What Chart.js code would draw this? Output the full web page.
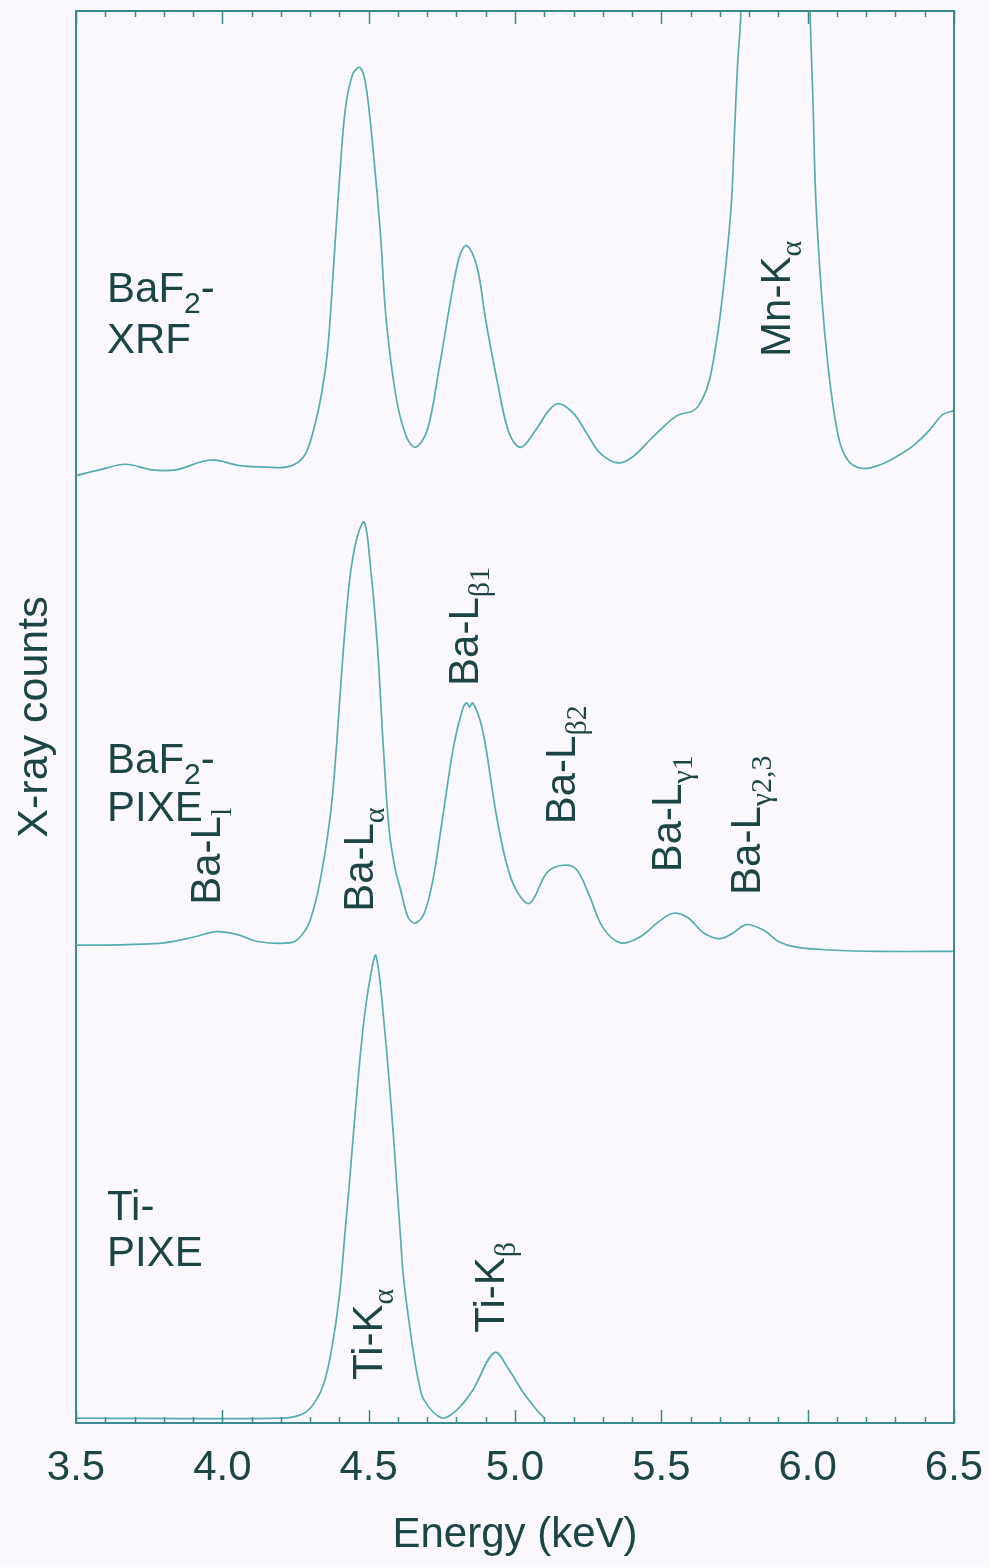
<!DOCTYPE html>
<html lang="en">
<head>
<meta charset="UTF-8">
<title>Espectros de raios X</title>
<script src="https://cdn.jsdelivr.net/npm/chart.js"></script>
<style>
    html, body { margin: 0; padding: 0; background: #faf8fc; }
    canvas { display: block; }
</style>
</head>
<body>
<canvas id="espectro" width="989" height="1567"></canvas>
<script>
    // eixo de energia (keV)
    const xTicks = [3.5, 4.0, 4.5, 5.0, 5.5, 6.0, 6.5];

    // BaF2 - XRF (curva de cima, contagens ja deslocadas)
    const xrfEnergy = [3.50, 3.58, 3.67, 3.76, 3.84, 3.96, 4.06, 4.15, 4.23, 4.28, 4.31, 4.34, 4.36, 4.38, 4.40, 4.42, 4.445, 4.47, 4.49,
        4.515, 4.54, 4.56, 4.595, 4.63, 4.66, 4.70, 4.74, 4.78, 4.81, 4.835, 4.87, 4.90, 4.94, 4.98, 5.02, 5.07, 5.115, 5.15, 5.20,
        5.245, 5.29, 5.35, 5.40, 5.46, 5.52, 5.56, 5.61, 5.64, 5.665, 5.693, 5.72, 5.74, 5.75, 5.76, 5.772, 5.80, 5.85, 5.90, 5.95,
        5.99, 6.008, 6.018, 6.028, 6.049, 6.07, 6.093, 6.115, 6.145, 6.19, 6.24, 6.30, 6.36, 6.42, 6.46, 6.50];
    const xrfCounts = [67.1, 67.5, 67.9, 67.5, 67.5, 68.2, 67.8, 67.7, 67.75, 68.5, 70.2, 73.0, 76.0, 81.9, 88.0, 93.0, 95.5, 96.0, 94.8,
        90.2, 84.3, 78.1, 72.5, 69.8, 69.1, 70.3, 74.6, 79.5, 82.6, 83.4, 81.9, 78.1, 73.7, 70.1, 69.1, 70.3, 71.7, 72.2, 71.5,
        70.1, 68.7, 68.0, 68.4, 69.6, 70.8, 71.4, 71.7, 72.5, 73.9, 77.2, 81.9, 86.6, 91.4, 96.0, 99.9, 118, 135, 142, 135,
        115, 99.9, 93.7, 86.6, 79.5, 74.8, 71.2, 69.1, 68.0, 67.6, 67.8, 68.4, 69.2, 70.4, 71.4, 71.7];

    // BaF2 - PIXE (curva do meio)
    const pixeEnergy = [3.50, 3.60, 3.70, 3.80, 3.90, 3.98, 4.05, 4.12, 4.23, 4.265, 4.30, 4.335, 4.37, 4.39, 4.41, 4.435, 4.46, 4.485, 4.505, 4.53,
        4.55, 4.57, 4.59, 4.61, 4.635, 4.66, 4.69, 4.72, 4.755, 4.79, 4.82, 4.835, 4.845, 4.855, 4.88, 4.90, 4.935, 4.97, 5.005, 5.05, 5.11,
        5.165, 5.21, 5.255, 5.30, 5.36, 5.425, 5.485, 5.54, 5.59, 5.645, 5.70, 5.745, 5.79, 5.85, 5.90, 5.96, 6.075, 6.245, 6.50];
    const pixeCounts = [33.85, 33.85, 33.9, 34.0, 34.4, 34.8, 34.6, 34.1, 34.0, 34.4, 35.6, 38.5, 43.2, 47.9, 53.8, 59.7, 62.7, 63.8, 60.9, 55.0,
        47.9, 42.0, 39.3, 37.7, 35.8, 35.4, 36.1, 38.5, 43.2, 47.9, 50.5, 51.0, 50.7, 51.0, 49.8, 47.9, 43.2, 39.7, 37.7, 36.8, 39.0,
        39.5, 39.2, 37.3, 35.1, 34.0, 34.4, 35.4, 36.1, 35.8, 34.7, 34.3, 34.7, 35.3, 34.9, 34.1, 33.7, 33.5, 33.4, 33.4];

    // Ti - PIXE (curva de baixo)
    const tiEnergy = [3.50, 4.21, 4.28, 4.32, 4.35, 4.375, 4.40, 4.42, 4.435, 4.45, 4.48, 4.505, 4.525, 4.555, 4.583, 4.595, 4.607, 4.62, 4.65, 4.67,
        4.69, 4.75, 4.80, 4.855, 4.93, 4.98, 5.03, 5.075, 5.10];
    const tiCounts = [0.35, 0.35, 0.7, 1.6, 3.0, 5.4, 9.0, 13.7, 17.2, 21.0, 27.8, 31.5, 33.1, 27.8, 20.8, 17.2, 13.7, 10.1, 5.4, 3.0,
        1.6, 0.35, 0.9, 2.3, 5.0, 3.75, 2.1, 0.9, 0.35];

    // rotulos das linhas (verticais)
    const peakNames = ['Mn-K', 'Ba-L', 'Ba-L', 'Ba-L', 'Ba-L', 'Ba-L', 'Ba-L', 'Ti-K', 'Ti-K'];
    const peakSubs = ['α', 'l', 'α', 'β1', 'β2', 'γ1', 'γ2,3', 'α', 'β'];

    // rotulos das amostras (horizontais)
    const sampleLines = [
        [{ t: 'BaF' }, { t: '2', sub: true }, { t: '-' }], [{ t: 'XRF' }],
        [{ t: 'BaF' }, { t: '2', sub: true }, { t: '-' }], [{ t: 'PIXE' }],
        [{ t: 'Ti-' }], [{ t: 'PIXE' }]
    ];

    const corCurva = '#55adb0';
    const corMoldura = '#3b8a8c';
    const corTexto = '#1c4646';
    const fonte = "'Liberation Sans', Arial, sans-serif";

    // posicoes dos rotulos (em unidades do grafico)
    const posPicos = [[5.94, 75.5], [3.992, 36.7], [4.515, 36.2], [4.874, 52.2], [5.205, 42.4], [5.567, 39.0], [5.837, 37.4], [4.546, 3.05], [4.962, 6.4]];
    const posAmostras = [[3.606, 79.4], [3.606, 75.8], [3.606, 46.0], [3.606, 42.6], [3.606, 14.4], [3.606, 11.1]];

    function pontos(xs, ys) {
        return xs.map((x, i) => ({ x: x, y: ys[i] }));
    }

    function escreverRico(ctx, partes, x, y, angulo, fonteSub) {
        ctx.save();
        ctx.translate(x, y);
        ctx.rotate(angulo);
        ctx.textBaseline = 'alphabetic';
        ctx.textAlign = 'left';
        ctx.fillStyle = corTexto;
        let cursor = 0;
        partes.forEach(p => {
            ctx.font = p.sub ? fonteSub : '42px ' + fonte;
            ctx.fillText(p.t, cursor, p.sub ? 11 : 0);
            cursor += ctx.measureText(p.t).width;
        });
        ctx.restore();
    }

    const fundo = {
        id: 'fundo',
        beforeDraw(chart) {
            const c = chart.ctx;
            c.save();
            c.fillStyle = '#faf8fc';
            c.fillRect(0, 0, chart.width, chart.height);
            c.restore();
        }
    };

    // moldura de cima/direita e tracinhos para dentro
    const moldura = {
        id: 'moldura',
        afterDatasetsDraw(chart) {
            const c = chart.ctx;
            const a = chart.chartArea;
            const xs = chart.scales.x;
            c.save();
            c.strokeStyle = corMoldura;
            c.lineWidth = 2;
            c.beginPath();
            c.moveTo(a.left, a.top);
            c.lineTo(a.right, a.top);
            c.lineTo(a.right, a.bottom);
            c.stroke();
            c.lineWidth = 1.5;
            for (let i = 0; i <= 30; i++) {
                const v = 3.5 + i * 0.1;
                const px = Math.round(xs.getPixelForValue(v)) + 0.5;
                const len = i % 5 === 0 ? 13 : 6;
                c.beginPath();
                c.moveTo(px, a.bottom);
                c.lineTo(px, a.bottom - len);
                c.moveTo(px, a.top);
                c.lineTo(px, a.top + len);
                c.stroke();
            }
            c.restore();
        }
    };

    const rotulos = {
        id: 'rotulos',
        afterDatasetsDraw(chart) {
            const c = chart.ctx;
            const xs = chart.scales.x;
            const ys = chart.scales.y;
            peakNames.forEach((nome, i) => {
                const px = xs.getPixelForValue(posPicos[i][0]);
                const py = ys.getPixelForValue(posPicos[i][1]);
                escreverRico(c, [{ t: nome }, { t: peakSubs[i], sub: true }], px, py, -Math.PI / 2, "30px 'Liberation Serif', serif");
            });
            sampleLines.forEach((linha, i) => {
                const px = xs.getPixelForValue(posAmostras[i][0]);
                const py = ys.getPixelForValue(posAmostras[i][1]);
                escreverRico(c, linha, px, py, 0, '30px ' + fonte);
            });
        }
    };

    const ctx = document.getElementById('espectro').getContext('2d');

    const serie = (label, data) => ({
        label: label,
        data: data,
        borderColor: corCurva,
        borderWidth: 1.7,
        pointRadius: 0,
        fill: false,
        tension: 0.35
    });

    const grafico = new Chart(ctx, {
        type: 'line',
        data: {
            datasets: [
                serie('BaF2-XRF', pontos(xrfEnergy, xrfCounts)),
                serie('BaF2-PIXE', pontos(pixeEnergy, pixeCounts)),
                serie('Ti-PIXE', pontos(tiEnergy, tiCounts))
            ]
        },
        options: {
            responsive: false,
            animation: false,
            devicePixelRatio: 1,
            layout: { padding: { top: 11, right: 35, bottom: 0, left: 0 } },
            plugins: {
                legend: { display: false },
                tooltip: { enabled: false }
            },
            scales: {
                x: {
                    type: 'linear',
                    min: 3.5,
                    max: 6.5,
                    afterFit: s => { s.height = 144; s.paddingLeft = 0; s.paddingRight = 0; },
                    afterBuildTicks: s => { s.ticks = xTicks.map(v => ({ value: v })); },
                    ticks: {
                        autoSkip: false,
                        maxRotation: 0,
                        padding: 12,
                        color: corTexto,
                        font: { family: fonte, size: 42 },
                        callback: v => Number(v).toFixed(1)
                    },
                    grid: { display: false },
                    border: { display: true, color: corMoldura, width: 2 },
                    title: {
                        display: true,
                        text: 'Energy (keV)',
                        color: corTexto,
                        font: { family: fonte, size: 42 },
                        padding: { top: 0, bottom: 6 }
                    }
                },
                y: {
                    min: 0,
                    max: 100,
                    afterFit: s => { s.width = 76; s.paddingTop = 0; s.paddingBottom = 0; },
                    ticks: { display: false },
                    grid: { display: false },
                    border: { display: true, color: corMoldura, width: 2 },
                    title: {
                        display: true,
                        text: 'X-ray counts',
                        color: corTexto,
                        font: { family: fonte, size: 43 },
                        padding: { top: 9, bottom: 0 }
                    }
                }
            }
        },
        plugins: [fundo, moldura, rotulos]
    });
</script>
</body>
</html>
